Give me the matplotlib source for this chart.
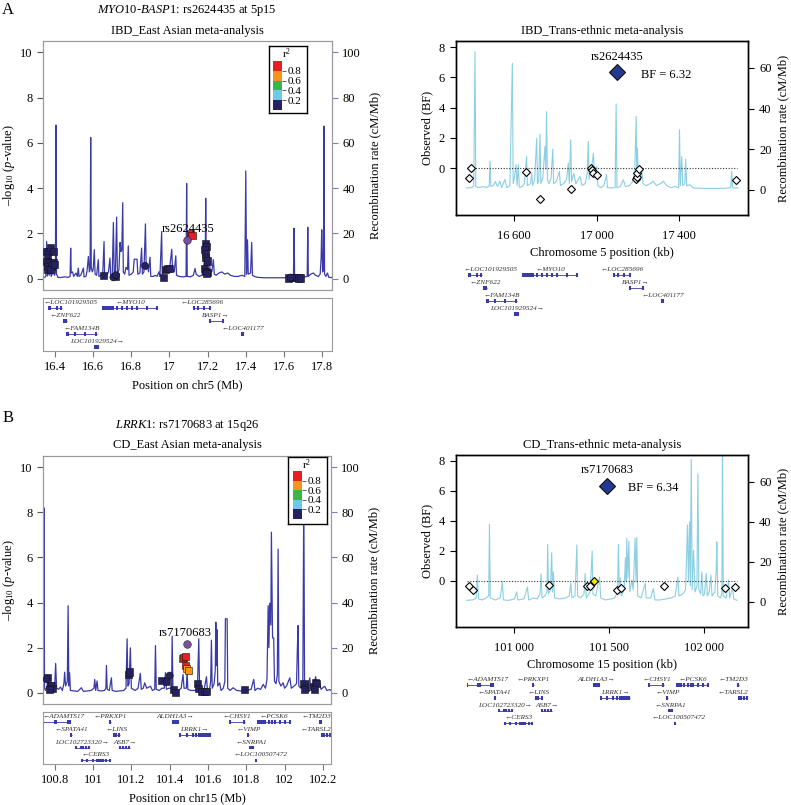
import numpy as np
import matplotlib
matplotlib.use('Agg')
import matplotlib.pyplot as plt
from matplotlib.colors import ListedColormap

plt.rcParams['font.family'] = ['Liberation Serif', 'DejaVu Serif']
plt.rcParams['mathtext.fontset'] = 'custom'
plt.rcParams['mathtext.rm'] = 'Liberation Serif'
plt.rcParams['mathtext.it'] = 'Liberation Serif:italic'
plt.rcParams['font.size'] = 9

# ---------------- data: panel A (5p15) ----------------
recomb_a = [
    (16.337, 0.4), (16.345, 0.6), (16.352, 1.0), (16.356, 16.4), (16.36, 1.2), (16.366, 4.0), (16.37, 1.5),
    (16.376, 6.0), (16.38, 1.0), (16.39, 3.0), (16.398, 1.5), (16.402, 3.0), (16.405, 67.8), (16.408, 2.0),
    (16.415, 0.6), (16.43, 0.5), (16.45, 0.8), (16.47, 0.6), (16.479, 1.0), (16.482, 13.5), (16.485, 2.5),
    (16.492, 3.0), (16.498, 1.0), (16.51, 2.5), (16.517, 1.0), (16.522, 4.7), (16.526, 1.0), (16.535, 1.5),
    (16.549, 4.7), (16.552, 0.8), (16.562, 1.0), (16.568, 3.5), (16.575, 9.8), (16.58, 3.0), (16.584, 4.0),
    (16.587, 62.4), (16.59, 5.0), (16.595, 3.0), (16.6, 4.0), (16.606, 12.8), (16.61, 2.0), (16.618, 1.5),
    (16.627, 8.4), (16.63, 1.0), (16.64, 1.5), (16.65, 2.0), (16.657, 16.4), (16.66, 1.5), (16.67, 1.0),
    (16.68, 3.0), (16.688, 9.1), (16.692, 1.0), (16.7, 2.0), (16.706, 24.8), (16.71, 3.0), (16.716, 2.0),
    (16.723, 27.2), (16.727, 2.0), (16.735, 4.0), (16.741, 16.0), (16.745, 12.0), (16.75, 12.5),
    (16.755, 33.6), (16.758, 3.0), (16.765, 2.0), (16.772, 5.0), (16.78, 4.0), (16.784, 14.5), (16.788, 1.5),
    (16.8, 2.0), (16.81, 3.0), (16.815, 8.6), (16.83, 8.6), (16.834, 2.0), (16.845, 2.5), (16.854, 13.5),
    (16.858, 2.0), (16.866, 3.0), (16.874, 24.2), (16.878, 4.0), (16.885, 6.0), (16.89, 3.0), (16.898, 9.5),
    (16.902, 1.0), (16.915, 1.0), (16.925, 1.5), (16.935, 1.0), (16.945, 3.0), (16.95, 1.0), (16.959, 20.8),
    (16.962, 2.0), (16.97, 3.0), (16.98, 5.0), (16.99, 3.0), (17.0, 4.0), (17.012, 13.0), (17.016, 4.0),
    (17.025, 3.0), (17.033, 10.1), (17.037, 1.5), (17.05, 1.0), (17.07, 0.8), (17.087, 1.0), (17.09, 42.1),
    (17.093, 1.0), (17.11, 0.8), (17.125, 1.5), (17.134, 4.5), (17.14, 2.0), (17.155, 1.0), (17.17, 1.5),
    (17.18, 5.0), (17.184, 10.5), (17.187, 3.0), (17.19, 35.5), (17.193, 5.0), (17.2, 6.0), (17.209, 10.5),
    (17.213, 3.0), (17.222, 3.0), (17.23, 8.4), (17.235, 2.0), (17.245, 1.5), (17.26, 2.5), (17.274, 3.0),
    (17.29, 2.0), (17.305, 2.5), (17.32, 1.5), (17.34, 1.0), (17.36, 1.0), (17.38, 1.5), (17.395, 1.0),
    (17.4, 47.6), (17.404, 2.0), (17.409, 17.2), (17.413, 2.0), (17.425, 2.5), (17.431, 16.0), (17.435, 1.5),
    (17.445, 1.0), (17.46, 0.6), (17.5, 0.4), (17.55, 0.4), (17.6, 0.4), (17.645, 0.5), (17.65, 1.0),
    (17.653, 22.3), (17.656, 1.0), (17.67, 0.6), (17.69, 0.6), (17.71, 0.8), (17.722, 1.0), (17.725, 22.7),
    (17.728, 1.0), (17.74, 2.0), (17.755, 2.5), (17.765, 1.5), (17.78, 1.0), (17.79, 2.0), (17.795, 9.0),
    (17.798, 21.6), (17.803, 3.0), (17.807, 4.0), (17.81, 67.4), (17.813, 2.0), (17.82, 1.0), (17.828, 2.5),
    (17.835, 0.6), (17.852, 0.5),
]

# SNPs: position (Mb), -log10 p, LD class (0..4 -> r2 bins), marker
snp_a_pos = [16.356, 16.365, 16.378, 16.39, 16.36, 16.358, 16.373, 16.39, 16.362, 16.383, 16.36, 16.375, 16.395,
             16.653, 16.706, 16.72, 16.715, 16.872, 16.971, 16.978, 16.99, 17.0,
             17.111, 17.118,
             17.19, 17.193, 17.186, 17.19, 17.188, 17.2, 17.186, 17.19, 17.2, 17.195,
             17.625, 17.635, 17.645, 17.655, 17.665, 17.675, 17.685]
snp_a_p = [1.2, 1.2, 1.38, 1.22, 0.95, 0.77, 0.72, 0.72, 0.55, 0.56, 0.4, 0.42, 0.62,
           0.15, 0.06, 0.15, 0.1, 0.57, 0.07, 0.39, 0.45, 0.45,
           2.01, 1.92,
           1.55, 1.42, 1.28, 1.1, 0.95, 0.78, 0.45, 0.33, 0.27, 0.22,
           0.03, 0.05, 0.06, 0.04, 0.05, 0.03, 0.03]
snp_a_ld = [0] * 22 + [4, 4] + [0] * 17
snp_a_mk = (['s'] * 13 + ['s', 'o', 'o', 's', 'o', 's', 's', 's', 's'] + ['s', 's'] + ['s'] * 10
            + ['s', 'o', 's', 's', 's', 's', 's'])
lead_a = (17.09, 1.72)

genes_a_name = ['LOC101929505', 'MYO10', 'LOC285696', 'ZNF622', 'BASP1', 'FAM134B', 'LOC401177', 'LOC101929524']
genes_a_start = [16.365, 16.652, 17.125, 16.444, 17.209, 16.461, 17.379, 16.61]
genes_a_end = [16.435, 16.935, 17.213, 16.461, 17.279, 16.618, 17.388, 16.627]
genes_a_row = [0, 0, 0, 1, 1, 2, 2, 3]
genes_a_strand = ['-', '-', '-', '-', '+', '-', '-', '+']
genes_a_exons = [
    [16.366, 16.372, 16.41, 16.433],
    [16.653, 16.658, 16.663, 16.668, 16.673, 16.678, 16.684, 16.69, 16.698, 16.706, 16.723, 16.75, 16.776,
     16.802, 16.828, 16.881, 16.933],
    [17.127, 17.15, 17.18, 17.211],
    [16.445, 16.45, 16.455, 16.46],
    [17.21, 17.278],
    [16.463, 16.47, 16.505, 16.557, 16.617],
    [17.381, 17.386],
    [16.612, 16.619, 16.625],
]
genes_a_label_x = {'LOC101929505': 16.479}

bf_a_pos = [16382, 16390, 16658, 16726, 16875, 16972, 16978, 16982, 17004, 17191, 17194, 17198, 17205, 17675]
bf_a_val = [-0.68, 0.02, -0.24, -2.05, -1.39, -0.02, -0.12, -0.31, -0.46, -0.73, -0.6, -0.35, -0.07, -0.79]
bf_a_lead = (17098, 6.32)

recomb_a_bf = [
    (16371, 0.8), (16395, 1.0), (16405, 2.0), (16411, 68.0), (16415, 1.5), (16430, 1.0), (16450, 1.5),
    (16470, 1.0), (16480, 2.0), (16484, 14.0), (16488, 1.5), (16500, 2.0), (16510, 4.0), (16520, 1.5),
    (16532, 4.2), (16540, 1.0), (16556, 5.0), (16565, 1.0), (16580, 2.0), (16592, 62.3), (16596, 3.0),
    (16602, 6.0), (16610, 12.3), (16615, 2.0), (16621, 12.3), (16626, 1.0), (16640, 1.5), (16650, 3.0),
    (16661, 16.4), (16665, 2.0), (16680, 3.0), (16686, 8.2), (16690, 2.0), (16700, 5.0), (16710, 25.4),
    (16714, 3.0), (16720, 4.0), (16726, 27.4), (16730, 3.0), (16740, 6.0), (16750, 21.3), (16754, 10.0),
    (16758, 38.5), (16762, 5.0), (16770, 3.0), (16780, 6.0), (16788, 20.0), (16792, 3.0), (16805, 4.0),
    (16820, 9.0), (16825, 2.0), (16840, 3.0), (16855, 5.0), (16863, 13.1), (16868, 3.0), (16875, 24.6),
    (16879, 4.0), (16890, 8.0), (16900, 3.0), (16920, 6.5), (16930, 2.0), (16945, 3.0), (16955, 8.0),
    (16960, 23.8), (16964, 5.0), (16975, 10.0), (16985, 18.0), (16990, 6.0), (17001, 11.5), (17006, 2.0),
    (17020, 1.0), (17035, 2.0), (17049, 7.4), (17053, 1.0), (17070, 0.8), (17090, 1.0), (17095, 42.3),
    (17099, 1.0), (17115, 1.5), (17130, 4.9), (17140, 1.5), (17160, 2.0), (17175, 4.0), (17185, 8.0),
    (17192, 36.1), (17195, 6.0), (17198, 20.5), (17203, 5.0), (17212, 6.0), (17219, 9.9), (17225, 3.0),
    (17240, 2.0), (17260, 3.0), (17275, 4.2), (17290, 2.0), (17310, 3.0), (17324, 4.2), (17340, 2.0),
    (17360, 1.0), (17380, 1.5), (17398, 1.0), (17402, 29.5), (17406, 2.0), (17413, 16.4), (17418, 2.0),
    (17428, 3.0), (17432, 15.0), (17437, 2.0), (17453, 2.4), (17470, 0.8), (17520, 0.6), (17580, 0.6),
    (17630, 0.7), (17650, 1.0), (17655, 9.0), (17659, 1.0), (17670, 0.8), (17684, 0.8),
]

# ---------------- data: panel B (15q26) ----------------
recomb_b = [
    (100.739, 1.0), (100.742, 2.0), (100.744, 82.0), (100.747, 2.0), (100.752, 1.0), (100.76, 3.0),
    (100.765, 7.1), (100.77, 1.5), (100.78, 2.0), (100.79, 1.0), (100.8, 3.0), (100.805, 13.0), (100.81, 2.0),
    (100.82, 1.5), (100.83, 2.5), (100.84, 1.0), (100.848, 4.0), (100.852, 9.1), (100.857, 3.0), (100.866, 5.0),
    (100.87, 38.6), (100.874, 3.0), (100.878, 8.8), (100.882, 1.0), (100.9, 0.8), (100.92, 0.6), (100.939, 2.2),
    (100.95, 0.6), (100.97, 0.8), (100.99, 1.0), (101.005, 2.0), (101.009, 5.9), (101.014, 1.0), (101.021, 5.2),
    (101.026, 1.0), (101.04, 0.8), (101.06, 1.0), (101.067, 2.0), (101.07, 12.1), (101.074, 1.5),
    (101.085, 1.0), (101.096, 6.6), (101.1, 1.0), (101.12, 0.6), (101.14, 0.8), (101.16, 1.0), (101.172, 2.0),
    (101.178, 23.9), (101.182, 3.0), (101.188, 4.0), (101.195, 19.9), (101.2, 2.0), (101.22, 1.0),
    (101.235, 2.0), (101.247, 8.6), (101.252, 1.5), (101.262, 2.0), (101.27, 4.4), (101.28, 2.0), (101.3, 2.9),
    (101.31, 1.0), (101.322, 1.5), (101.326, 20.9), (101.33, 1.5), (101.345, 1.0), (101.36, 2.0),
    (101.372, 2.0), (101.378, 8.9), (101.383, 1.5), (101.395, 2.0), (101.41, 2.0), (101.413, 25.1),
    (101.417, 2.0), (101.43, 1.0), (101.445, 1.0), (101.46, 2.0), (101.47, 8.1), (101.475, 2.0),
    (101.487, 2.0), (101.491, 9.6), (101.495, 1.5), (101.51, 1.0), (101.53, 1.0), (101.545, 2.0),
    (101.552, 23.9), (101.556, 2.0), (101.565, 1.0), (101.58, 1.5), (101.592, 7.1), (101.597, 1.0),
    (101.608, 1.5), (101.614, 5.0), (101.618, 23.3), (101.622, 2.0), (101.632, 4.0), (101.638, 10.0),
    (101.641, 31.3), (101.644, 12.0), (101.647, 28.0), (101.651, 3.0), (101.661, 4.4), (101.668, 1.0),
    (101.68, 2.0), (101.688, 5.0), (101.691, 32.8), (101.7, 32.8), (101.703, 2.0), (101.715, 1.0),
    (101.731, 2.2), (101.75, 1.0), (101.77, 0.8), (101.79, 1.0), (101.81, 1.2), (101.825, 1.5), (101.839, 5.9),
    (101.845, 1.0), (101.86, 2.0), (101.875, 1.5), (101.888, 3.7), (101.9, 2.0), (101.908, 6.0),
    (101.914, 38.6), (101.918, 20.0), (101.922, 39.7), (101.928, 30.0), (101.931, 71.2), (101.937, 24.3),
    (101.943, 24.3), (101.947, 5.0), (101.955, 4.0), (101.962, 8.0), (101.966, 63.7), (101.97, 5.0),
    (101.98, 3.0), (101.992, 4.4), (102.0, 2.0), (102.01, 3.0), (102.027, 6.6), (102.035, 2.0), (102.05, 3.0),
    (102.062, 4.0), (102.066, 18.0), (102.07, 29.8), (102.074, 3.0), (102.085, 2.0), (102.095, 4.0),
    (102.1, 90.0), (102.104, 3.0), (102.115, 2.0), (102.125, 3.0), (102.131, 6.6), (102.137, 2.0),
    (102.15, 3.0), (102.162, 7.1), (102.168, 2.0), (102.183, 4.4), (102.19, 1.5), (102.209, 2.9),
    (102.22, 1.0), (102.236, 1.4), (102.242, 1.0),
]

snp_b_pos = [100.762, 100.758, 100.778, 100.785, 100.79, 100.775,
             101.183, 101.19,
             101.36, 101.383, 101.4, 101.421, 101.43,
             101.466, 101.472, 101.485, 101.481, 101.49, 101.5,
             101.545, 101.55, 101.566, 101.583, 101.59,
             101.792,
             102.101, 102.11, 102.153, 102.16, 102.168, 102.158, 102.105]
snp_b_p = [0.66, 0.6, 0.3, 0.33, 0.18, 0.15,
           0.81, 0.92,
           0.54, 0.51, 0.76, 0.15, 0.03,
           1.52, 1.56, 1.6, 1.22, 1.08, 0.98,
           0.4, 0.19, 0.04, 0.04, 0.04,
           0.16,
           0.4, 0.25, 0.26, 0.47, 0.4, 0.13, 0.15]
snp_b_ld = [0] * 13 + [3, 4, 4, 4, 3, 3] + [0] * 13
snp_b_mk = ['s', 'o', 's', 's', 's', 's', 's', 's', 's', 's', 'o', 's', 's'] + ['s'] * 6 + ['s'] * 13
lead_b = (101.488, 2.14)

genes_b_name = ['ADAMTS17', 'PRKXP1', 'ALDH1A3', 'CHSY1', 'PCSK6', 'TM2D3',
                'SPATA41', 'LINS', 'LRRK1', 'VIMP', 'TARSL2',
                'LOC102723320', 'ASB7', 'SNRPA1',
                'CERS3', 'LOC100507472']
genes_b_start = [100.73, 101.087, 101.418, 101.714, 101.862, 102.184,
                 100.884, 101.108, 101.453, 101.809, 102.192,
                 100.91, 101.139, 101.815,
                 100.939, 101.849]
genes_b_end = [100.878, 101.096, 101.444, 101.792, 102.027, 102.192,
               100.891, 101.14, 101.609, 101.814, 102.26,
               100.979, 101.191, 101.836,
               101.087, 101.851]
genes_b_row = [0, 0, 0, 0, 0, 0, 1, 1, 1, 1, 1, 2, 2, 2, 3, 3]
genes_b_strand = ['-', '-', '+', '-', '-', '-', '-', '-', '+', '-', '-', '+', '+', '-', '-', '-']
genes_b_exons = [
    [100.74, 100.8, 100.809, 100.87, 100.878],
    [101.09],
    [101.419, 101.425, 101.43, 101.436, 101.443],
    [101.715, 101.79],
    [101.862, 101.868, 101.875, 101.885, 101.9, 101.92, 101.935, 101.95, 101.975, 102.0, 102.026],
    [102.186, 102.19],
    [100.887],
    [101.11, 101.118, 101.138],
    [101.454, 101.49, 101.52, 101.54, 101.555, 101.565, 101.575, 101.585, 101.59, 101.595, 101.6, 101.608],
    [101.811],
    [102.195, 102.205, 102.22, 102.235],
    [100.912, 100.935, 100.95, 100.965, 100.978],
    [101.14, 101.155, 101.17, 101.19],
    [101.817, 101.822, 101.828, 101.834],
    [100.94, 100.97, 101.0, 101.02, 101.03, 101.04, 101.05, 101.07, 101.087],
    [101.85],
]
genes_b_label_x = {'ADAMTS17': 100.847, 'TM2D3': 102.165, 'TARSL2': 102.161, 'LOC100507472': 101.872}

bf_b_pos = [100760, 100783, 101185, 101383, 101400, 101544, 101564, 101793, 102111, 102164]
bf_b_val = [-0.33, -0.6, -0.27, -0.37, -0.33, -0.64, -0.51, -0.37, -0.51, -0.44]
bf_b_hl = (101421, 0.0)
bf_b_lead = (101488, 6.34)

recomb_b_bf = [
    (100748, 0.8), (100780, 1.0), (100798, 2.0), (100804, 13.4), (100810, 1.5), (100830, 1.0), (100850, 2.0),
    (100864, 3.0), (100868, 38.7), (100872, 2.0), (100900, 1.0), (100925, 2.0), (100936, 10.0), (100942, 1.0),
    (100970, 0.8), (101000, 1.5), (101012, 5.0), (101018, 1.0), (101050, 1.5), (101069, 7.5), (101075, 1.0),
    (101100, 2.0), (101120, 1.5), (101135, 4.0), (101141, 13.9), (101146, 2.0), (101160, 3.0), (101172, 5.0),
    (101176, 28.7), (101180, 4.0), (101190, 6.0), (101197, 24.5), (101201, 5.0), (101206, 15.0),
    (101212, 2.0), (101240, 1.5), (101270, 2.0), (101290, 3.0), (101298, 9.5), (101304, 2.0), (101320, 3.0),
    (101330, 28.4), (101334, 3.0), (101350, 2.0), (101368, 4.0), (101374, 14.2), (101380, 2.0),
    (101400, 5.0), (101411, 25.4), (101415, 4.0), (101430, 3.0), (101450, 12.5), (101456, 2.0),
    (101480, 1.0), (101510, 1.5), (101530, 2.0), (101545, 5.0), (101550, 28.7), (101555, 4.0),
    (101559, 12.0), (101565, 3.0), (101580, 6.0), (101587, 22.0), (101591, 10.0), (101594, 31.7),
    (101600, 12.0), (101605, 30.4), (101610, 5.0), (101621, 10.9), (101628, 6.0), (101638, 31.7),
    (101643, 10.0), (101647, 32.2), (101652, 3.0), (101670, 2.0), (101691, 9.2), (101697, 2.0),
    (101720, 2.0), (101735, 6.7), (101742, 1.0), (101770, 1.0), (101800, 1.5), (101830, 2.0), (101850, 3.0),
    (101864, 12.5), (101870, 3.0), (101890, 4.0), (101905, 6.0), (101915, 38.4), (101920, 10.0),
    (101926, 40.0), (101930, 8.0), (101935, 71.2), (101940, 6.0), (101947, 25.9), (101955, 5.0),
    (101965, 8.0), (101970, 63.9), (101975, 6.0), (101985, 4.0), (101991, 15.0), (101997, 3.0),
    (102005, 4.0), (102014, 14.2), (102020, 3.0), (102030, 5.0), (102039, 13.4), (102045, 3.0),
    (102060, 5.0), (102067, 16.4), (102070, 30.0), (102075, 3.0), (102090, 2.0), (102097, 5.0),
    (102100, 85.0), (102104, 3.0), (102120, 2.0), (102132, 10.9), (102138, 2.0), (102153, 7.5),
    (102160, 1.5), (102176, 0.8),
]

# ---------------- styling ----------------
W, H = 791, 805
LD_COLORS = ['#262262', '#6dc8ec', '#3bb44a', '#f7941d', '#ec1c24']
LEAD_COLOR = '#7a4f9e'
RECOMB_DARK = '#3a3aa8'
RECOMB_LIGHT = '#8ccfe3'
GENE_COLOR = '#3a3aa8'
FRAME_GRAY = '#9a9a9a'


def box(x0, y0, x1, y1):
    # pixel box (top-left origin) -> figure fraction rect
    return [x0 / W, 1 - y1 / H, (x1 - x0) / W, (y1 - y0) / H]


def draw_genes(ax, names, starts, ends, rows, strands, exons, label_x):
    for name, s, e, r, st, ex in zip(names, starts, ends, rows, strands, exons):
        ax.plot([s, e], [r, r], color=GENE_COLOR, lw=0.6, solid_capstyle='butt')
        ax.vlines(ex, r - 0.14, r + 0.14, color=GENE_COLOR, lw=1.5)
        txt = f'\u2190{name}' if st == '-' else f'{name}\u2192'
        lx = label_x.get(name, (s + e) / 2)
        ax.text(lx, r - 0.42, txt, ha='center', va='center', fontsize=5.2,
                fontstyle='italic', color='#333333')
    ax.set_ylim(3.29, -0.79)


def ld_legend(fig, outer, bar):
    lax = fig.add_axes(box(*outer))
    lax.set_xticks([])
    lax.set_yticks([])
    for sp in lax.spines.values():
        sp.set_color('black')
        sp.set_linewidth(1.0)
    lax.set_zorder(10)
    cx = (bar[0] + bar[2]) / 2 + 9
    lax.text((cx - outer[0]) / (outer[2] - outer[0]), 1 - 8 / (outer[3] - outer[1]), 'r$^{2}$',
             transform=lax.transAxes, ha='center', va='center', fontsize=8)
    cax = fig.add_axes(box(*bar))
    cax.imshow(np.arange(5)[::-1].reshape(5, 1), cmap=ListedColormap(LD_COLORS), aspect='auto',
               extent=(0, 1, 0, 1), origin='upper', vmin=0, vmax=4)
    cax.set_xticks([])
    cax.yaxis.tick_right()
    cax.set_yticks([0.2, 0.4, 0.6, 0.8])
    cax.set_yticklabels(['0.2', '0.4', '0.6', '0.8'])
    cax.tick_params(axis='y', length=3, width=0.6, pad=1, labelsize=8, color='#444444')
    for sp in cax.spines.values():
        sp.set_visible(False)
    cax.set_zorder(11)


def locus_panel(fig, main_px, gene_px, xlim, recomb, pos, pval, ld, mk, lead, lead_name, name_xy,
                genes, label_x, xticks, xticklabels, xlabel, legend_outer, legend_bar):
    ax = fig.add_axes(box(*main_px))
    ax2 = ax.twinx()
    rx, ry = zip(*recomb)
    ax2.plot(rx, ry, color=RECOMB_DARK, lw=0.9)
    ax2.set_ylim(-5, 105)
    ax2.set_yticks([0, 20, 40, 60, 80, 100])
    ax2.tick_params(axis='y', colors='#7b7bd6', labelcolor='black', length=4, labelsize=9)
    ax2.set_ylabel('Recombination rate (cM/Mb)', fontsize=9, labelpad=6)

    ax.set_zorder(ax2.get_zorder() + 1)
    ax.patch.set_visible(False)
    for m in ('s', 'o'):
        idx = [i for i, k in enumerate(mk) if k == m]
        ax.scatter([pos[i] for i in idx], [pval[i] for i in idx], marker=m, s=26,
                   c=[LD_COLORS[ld[i]] for i in idx], edgecolors='#111111', linewidths=0.4, zorder=3)
    ax.scatter([lead[0]], [lead[1]], marker='o', s=30, c=LEAD_COLOR, edgecolors='#222222',
               linewidths=0.4, zorder=4)
    ax.text(name_xy[0], name_xy[1], lead_name, ha='center', va='center', fontsize=9, zorder=5)
    ax.set_xlim(xlim)
    ax.set_ylim(-0.5, 10.5)
    ax.set_yticks([0, 2, 4, 6, 8, 10])
    ax.set_xticks([])
    ax.tick_params(axis='y', length=4, labelsize=9, color='#555555')
    ax.set_ylabel('\u2013log$_{10}$ ($p$-value)', fontsize=9, labelpad=2)
    for a in (ax, ax2):
        for sp in a.spines.values():
            sp.set_color(FRAME_GRAY)
            sp.set_linewidth(0.8)

    gx = fig.add_axes(box(*gene_px))
    draw_genes(gx, *genes, label_x)
    gx.set_xlim(xlim)
    gx.set_yticks([])
    gx.set_xticks(xticks)
    gx.set_xticklabels(xticklabels)
    gx.tick_params(axis='x', length=4, color='#777777', labelsize=9)
    gx.set_xlabel(xlabel, fontsize=9)
    for sp in gx.spines.values():
        sp.set_color(FRAME_GRAY)
        sp.set_linewidth(0.8)

    ld_legend(fig, legend_outer, legend_bar)


def bf_panel(fig, main_px, gene_px, xlim, recomb, pos, val, lead, lead_name, name_y, bf_text_x,
             dot_span, highlight, xticks, xticklabels, xlabel, genes, label_x, gene_xlim):
    ax = fig.add_axes(box(*main_px))
    ax2 = ax.twinx()
    rx, ry = zip(*recomb)
    ax2.plot(rx, ry, color=RECOMB_LIGHT, lw=0.8)
    ax2.set_ylim(-12.5, 73.3)
    ax2.set_yticks([0, 20, 40, 60])
    ax2.tick_params(axis='y', length=4.5, width=0.8, labelsize=9)
    ax2.set_ylabel('Recombination rate (cM/Mb)', fontsize=9)

    ax.set_zorder(ax2.get_zorder() + 1)
    ax.patch.set_visible(False)
    ax.hlines(0, dot_span[0], dot_span[1], colors='#333333', linestyles=(0, (1, 1.5)), lw=0.8)
    ax.plot(pos, val, 'D', ms=3.6, mfc='white', mec='black', mew=0.8, ls='none', zorder=3)
    if highlight is not None:
        ax.plot([highlight[0]], [highlight[1]], 'D', ms=3.6, mfc='#f3e800', mec='black', mew=0.8, zorder=4)
    ax.plot([lead[0]], [lead[1]], 'D', ms=8.6, mfc='#243a92', mec='#111111', mew=0.8, zorder=4)
    ax.text(lead[0], name_y, lead_name, ha='center', va='center', fontsize=9)
    ax.text(bf_text_x, lead[1] - 0.15, f'BF = {lead[1]:.2f}', ha='left', va='center', fontsize=9)
    ax.set_xlim(xlim)
    ax.set_ylim(-3.1, 8.4)
    ax.set_yticks([0, 2, 4, 6, 8])
    ax.set_xticks(xticks)
    ax.set_xticklabels(xticklabels)
    ax.tick_params(length=4.5, width=0.8, labelsize=9)
    ax.tick_params(axis='x', pad=6)
    ax.set_ylabel('Observed (BF)', fontsize=9)
    ax.set_xlabel(xlabel, fontsize=9)
    for a in (ax, ax2):
        for sp in a.spines.values():
            sp.set_color('black')
            sp.set_linewidth(1.0)

    gx = fig.add_axes(box(*gene_px))
    draw_genes(gx, *genes, label_x)
    gx.set_xlim(gene_xlim)
    gx.axis('off')


fig = plt.figure(figsize=(W / 100, H / 100), dpi=100)

xlim_a = (16.337, 17.852)
xlim_b = (100.739, 102.242)
genes_a = (genes_a_name, genes_a_start, genes_a_end, genes_a_row, genes_a_strand, genes_a_exons)
genes_b = (genes_b_name, genes_b_start, genes_b_end, genes_b_row, genes_b_strand, genes_b_exons)

locus_panel(fig, (43, 41, 332, 290), (43, 298, 332, 351), xlim_a, recomb_a,
            snp_a_pos, snp_a_p, snp_a_ld, snp_a_mk, lead_a, 'rs2624435', (17.097, 2.2),
            genes_a, genes_a_label_x,
            [16.4, 16.6, 16.8, 17.0, 17.2, 17.4, 17.6, 17.8],
            ['16.4', '16.6', '16.8', '17', '17.2', '17.4', '17.6', '17.8'],
            'Position on chr5 (Mb)', (269, 46, 307, 113), (273, 61, 282, 110))

locus_panel(fig, (43, 456, 331, 704), (43, 712, 331, 764), xlim_b, recomb_b,
            snp_b_pos, snp_b_p, snp_b_ld, snp_b_mk, lead_b, 'rs7170683', (101.48, 2.65),
            genes_b, genes_b_label_x,
            [100.8, 101.0, 101.2, 101.4, 101.6, 101.8, 102.0, 102.2],
            ['100.8', '101', '101.2', '101.4', '101.6', '101.8', '102', '102.2'],
            'Position on chr15 (Mb)', (288, 457, 327, 524), (293, 471, 302, 519))

bf_panel(fig, (456, 41, 748, 215), (463, 265, 752, 318), (16319, 17734), recomb_a_bf,
         bf_a_pos, bf_a_val, bf_a_lead, 'rs2624435', 7.33, 17214, (16371, 17680), None,
         [16600, 17000, 17400], ['16\u2009600', '17\u2009000', '17\u2009400'],
         'Chromosome 5 position (kb)', genes_a, genes_a_label_x, xlim_a)

bf_panel(fig, (456, 455, 748, 627), (467, 675, 748, 727), (100691, 102235), recomb_b_bf,
         bf_b_pos, bf_b_val, bf_b_lead, 'rs7170683', 7.38, 101603, (100749, 102177), bf_b_hl,
         [101000, 101500, 102000], ['101\u2009000', '101\u2009500', '102\u2009000'],
         'Chromosome 15 position (kb)', genes_b, genes_b_label_x, xlim_b)

# titles and panel letters
fig.text(8 / W, 1 - 10 / H, 'A', ha='center', va='center', fontsize=12)
fig.text(8 / W, 1 - 418 / H, 'B', ha='center', va='center', fontsize=12)
fig.text(187 / W, 1 - 10 / H, r'$\mathit{MYO10}$-$\mathit{BASP1}$: rs2624435 at 5p15',
         ha='center', va='center', fontsize=9)
fig.text(187 / W, 1 - 31 / H, 'IBD_East Asian meta-analysis', ha='center', va='center', fontsize=9)
fig.text(602 / W, 1 - 31 / H, 'IBD_Trans-ethnic meta-analysis', ha='center', va='center', fontsize=9)
fig.text(187 / W, 1 - 425 / H, r'$\mathit{LRRK1}$: rs7170683 at 15q26', ha='center', va='center', fontsize=9)
fig.text(187 / W, 1 - 445 / H, 'CD_East Asian meta-analysis', ha='center', va='center', fontsize=9)
fig.text(602 / W, 1 - 445 / H, 'CD_Trans-ethnic meta-analysis', ha='center', va='center', fontsize=9)

fig.savefig('out.png', dpi=100)
